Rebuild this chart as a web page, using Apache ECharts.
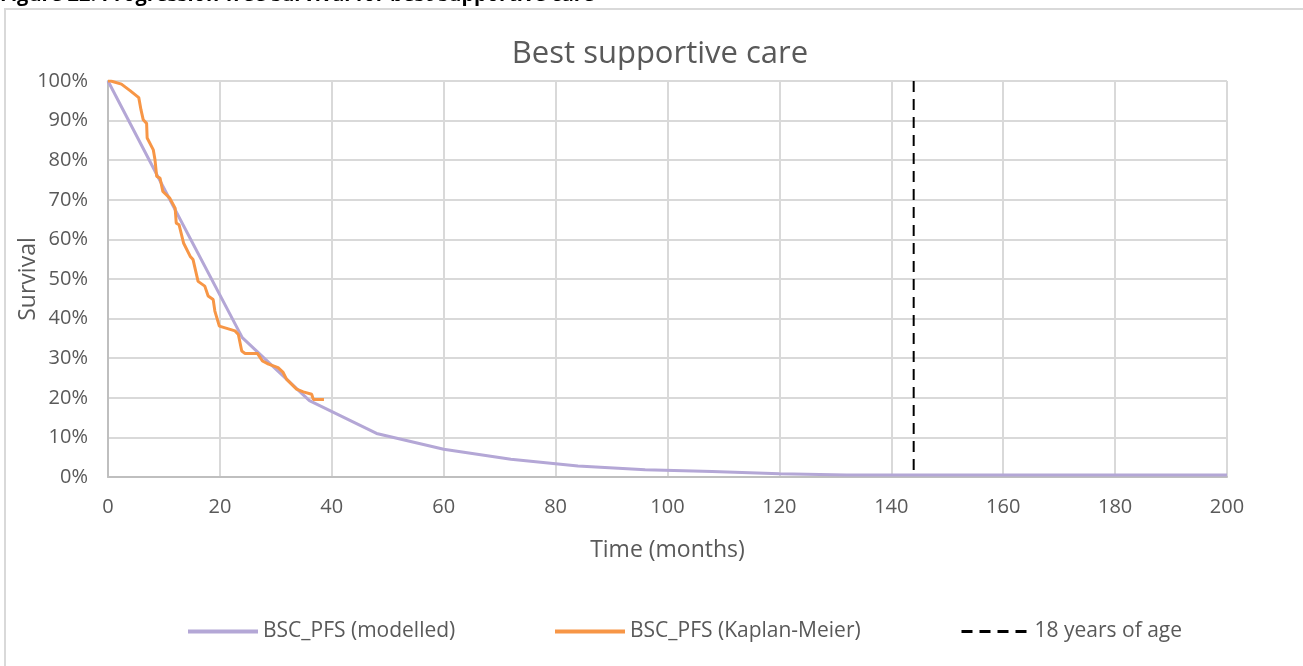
<!DOCTYPE html>
<html>
<head>
<meta charset="utf-8">
<script src="https://cdn.jsdelivr.net/npm/echarts@6/dist/echarts.min.js"></script>
<style>
html,body{margin:0;padding:0;background:#fff;}
#c{width:1303px;height:666px;}
</style>
</head>
<body>
<div id="c"></div>
<script>
// Modelled PFS (months, survival fraction)
const modelledTime = [0, 12, 24, 36, 48, 60, 72, 84, 96, 108, 120, 132, 144, 156, 168, 180, 192, 200];
const modelledSurv = [1.00, 0.675, 0.352, 0.193, 0.110, 0.070, 0.045, 0.028, 0.018, 0.014, 0.008, 0.005, 0.005, 0.005, 0.005, 0.005, 0.005, 0.005];

// Kaplan-Meier PFS
const kmTime = [0, 0.5, 2.4, 4.0, 5.5, 5.9, 6.3, 6.9, 7.0, 8.1, 8.4, 8.7, 9.3, 9.8, 11.0, 12.0, 12.2, 12.7, 13.5, 14.7, 15.2, 16.1, 17.3, 17.9, 18.8, 19.1, 19.9, 22.7, 23.3, 23.9, 24.5, 26.7, 27.6, 28.7, 30.4, 31.3, 31.9, 33.7, 34.9, 36.4, 36.7, 38.6];
const kmSurv = [1.00, 1.00, 0.992, 0.975, 0.958, 0.927, 0.902, 0.893, 0.856, 0.826, 0.801, 0.759, 0.755, 0.721, 0.705, 0.679, 0.641, 0.637, 0.591, 0.557, 0.549, 0.494, 0.482, 0.457, 0.448, 0.419, 0.381, 0.369, 0.360, 0.318, 0.312, 0.312, 0.293, 0.285, 0.276, 0.264, 0.247, 0.222, 0.215, 0.209, 0.196, 0.196];

// 18 years of age marker (drawn top to bottom)
const ageMarkerMonth = 144;
const ageMarkerRange = [1, 0];

const xTicks = {min: 0, max: 200, interval: 20};
const yTicks = {min: 0, max: 1, interval: 0.1};

const seriesNames = ['BSC_PFS (modelled)', 'BSC_PFS (Kaplan-Meier)', '18 years of age'];
const titleText = 'Best supportive care';
const captionText = 'Figure 22: Progression-free survival for best supportive care';

const FONT = '"Open Sans", Lato, sans-serif';
const GREY = '#595959';

const chart = echarts.init(document.getElementById('c'), null, {renderer: 'canvas'});
const legendBase = {
  top: 616, itemWidth: 70, itemHeight: 14, itemGap: 5,
  textStyle: {fontFamily: FONT, fontSize: 21, color: GREY},
  itemStyle: {opacity: 0},
  lineStyle: {width: 4},
  selectedMode: false
};
chart.setOption({
  animation: false,
  backgroundColor: '#fff',
  graphic: [
    {type: 'rect', shape: {x: 5, y: 9, width: 1400, height: 700},
     style: {fill: 'none', stroke: '#d9d9d9', lineWidth: 2}, silent: true, z: -10},
    {type: 'text', left: 0, top: -15,
     style: {text: captionText, font: 'bold 20px ' + FONT, fill: '#000'}, silent: true}
  ],
  title: {
    text: titleText, left: 655, top: 34, textAlign: 'center',
    textStyle: {fontFamily: FONT, fontSize: 31, fontWeight: 'normal', color: GREY}
  },
  legend: [
    Object.assign({}, legendBase, {left: 181, data: [seriesNames[0]]}),
    Object.assign({}, legendBase, {left: 548, data: [seriesNames[1]]}),
    Object.assign({}, legendBase, {left: 955, itemWidth: 68, lineStyle: {width: 3}, data: [seriesNames[2]]})
  ],
  grid: {left: 108, right: 76, top: 81, bottom: 189, containLabel: false, outerBoundsMode: 'none'},
  xAxis: {
    type: 'value', min: xTicks.min, max: xTicks.max, interval: xTicks.interval,
    name: 'Time (months)', nameLocation: 'middle', nameGap: 62, nameMoveOverlap: false,
    nameTextStyle: {fontFamily: FONT, fontSize: 23, color: GREY},
    axisLine: {show: true, lineStyle: {color: '#bfbfbf', width: 2}},
    axisTick: {show: false},
    axisLabel: {fontFamily: FONT, fontSize: 20, color: GREY, margin: 20},
    splitLine: {show: true, lineStyle: {color: '#d9d9d9', width: 2}}
  },
  yAxis: {
    type: 'value', min: yTicks.min, max: yTicks.max, interval: yTicks.interval,
    name: 'Survival', nameLocation: 'middle', nameGap: 68, nameRotate: 90, nameMoveOverlap: false,
    nameTextStyle: {fontFamily: FONT, fontSize: 23, color: GREY},
    axisLine: {show: true, lineStyle: {color: '#bfbfbf', width: 2}},
    axisTick: {show: false},
    axisLabel: {fontFamily: FONT, fontSize: 20, color: GREY, margin: 20,
      formatter: v => Math.round(v * 100) + '%'},
    splitLine: {show: true, lineStyle: {color: '#d9d9d9', width: 2}}
  },
  series: [
    {name: seriesNames[0], type: 'line', symbol: 'none', z: 3,
     data: modelledTime.map((t, i) => [t, modelledSurv[i]]),
     lineStyle: {color: '#b4a7d6', width: 3}, itemStyle: {color: '#b4a7d6'}},
    {name: seriesNames[1], type: 'line', symbol: 'none', z: 4,
     data: kmTime.map((t, i) => [t, kmSurv[i]]),
     lineStyle: {color: '#f79646', width: 3}, itemStyle: {color: '#f79646'}},
    {name: seriesNames[2], type: 'line', symbol: 'none', z: 5,
     data: ageMarkerRange.map(v => [ageMarkerMonth, v]),
     lineStyle: {color: '#000', width: 2, type: [11, 7]}, itemStyle: {color: '#000'}}
  ]
});
</script>
</body>
</html>
